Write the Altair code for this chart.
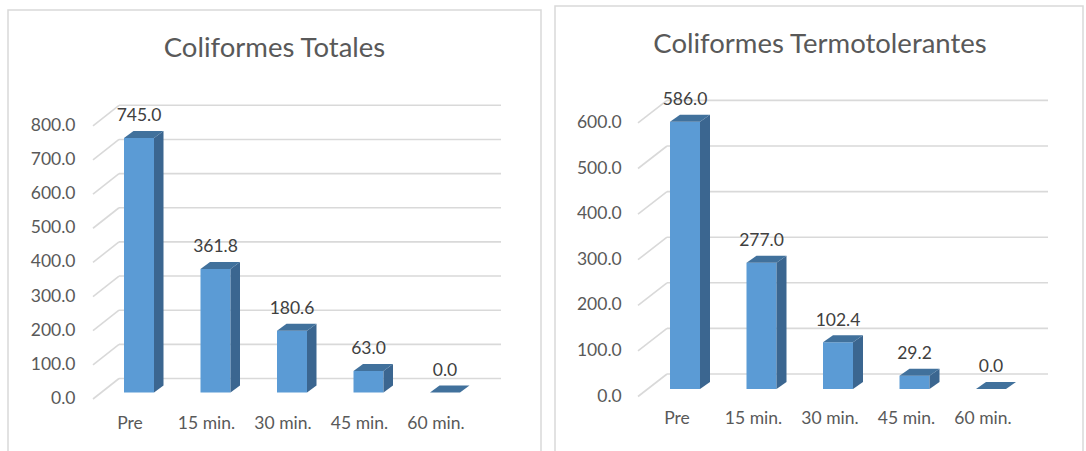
import altair as alt
import pandas as pd

categories = ["Pre", "15 min.", "30 min.", "45 min.", "60 min."]
totales = [745.0, 361.8, 180.6, 63.0, 0.0]
termotolerantes = [586.0, 277.0, 102.4, 29.2, 0.0]
ticks_totales = [0, 100, 200, 300, 400, 500, 600, 700, 800]
ticks_termo = [0, 100, 200, 300, 400, 500, 600]
titles = ["Coliformes Totales", "Coliformes Termotolerantes"]

FONT = "Lato"
TXT = "#595959"
FRONT = "#5B9BD5"
SIDE = "#3B6690"
TOPC = "#41719C"
GRID = "#D9D9D9"
BORDER = "#D9D9D9"


def panel(title, values, ticks, g):
    k = g["px_per_unit"]
    step = g["step"]
    half = g["half"] / step
    dx = g["depth_dx"] / step
    dy = g["depth_dy"] / k
    n = len(categories)

    bars = pd.DataFrame({
        "i": list(range(n)),
        "xl": [i - half for i in range(n)],
        "xr": [i + half for i in range(n)],
        "cat": categories,
        "v": values,
        "zero": [0.0] * n,
        "label": [f"{v:.1f}" for v in values],
    })
    side_rows, top_rows = [], []
    for i, v in enumerate(values):
        side_rows += [
            {"bar": i, "x": i + half, "top": v, "bot": 0.0},
            {"bar": i, "x": i + half + dx, "top": v + dy, "bot": dy},
        ]
        top_rows += [
            {"bar": i, "x": i - half, "top": v, "bot": v},
            {"bar": i, "x": i - half + dx, "top": v + dy, "bot": v},
            {"bar": i, "x": i + half, "top": v + dy, "bot": v},
            {"bar": i, "x": i + half + dx, "top": v + dy, "bot": v + dy},
        ]
    side = pd.DataFrame(side_rows)
    topf = pd.DataFrame(top_rows)
    tk = pd.DataFrame({"t": ticks, "tl": [f"{t:.1f}" for t in ticks]})
    one = pd.DataFrame({"title": [title]})

    xs = alt.Scale(domain=[0, n - 1], range=[g["x0"], g["x0"] + step * (n - 1)], nice=False, zero=False)
    ys = alt.Scale(domain=[0, ticks[-1]], range=[g["y0"], g["y0"] - k * ticks[-1]], nice=False, zero=False)

    bx = g["border"]
    border = alt.Chart(one).mark_rect(filled=False, stroke=BORDER, strokeWidth=1.5).encode(
        x=alt.value(bx[0]), x2=alt.value(bx[1]), y=alt.value(bx[2]), y2=alt.value(bx[3]))

    grid = alt.Chart(tk).mark_rule(color=GRID, strokeWidth=1.6, yOffset=g["back_dy"]).encode(
        y=alt.Y("t:Q", scale=ys, axis=None),
        x=alt.value(g["back_x0"]), x2=alt.value(g["back_x1"]))

    diag = alt.Chart(tk).mark_rule(color=GRID, strokeWidth=1.6, yOffset=g["front_dy"], y2Offset=g["back_dy"]).encode(
        y=alt.Y("t:Q", scale=ys, axis=None), y2=alt.Y2("t"),
        x=alt.value(g["front_x0"]), x2=alt.value(g["back_x0"]))

    ticklab = alt.Chart(tk).mark_text(align="right", baseline="middle", yOffset=g["front_dy"],
                                      font=FONT, fontSize=g["fs"], color=TXT).encode(
        y=alt.Y("t:Q", scale=ys, axis=None), x=alt.value(g["tick_x"]), text="tl:N")

    front = alt.Chart(bars).mark_rect(color=FRONT).encode(
        x=alt.X("xl:Q", scale=xs, axis=None), x2="xr",
        y=alt.Y("v:Q", scale=ys, axis=None), y2="zero")

    sidef = alt.Chart(side).mark_area(color=SIDE, orient="vertical").encode(
        x=alt.X("x:Q", scale=xs, axis=None),
        y=alt.Y("top:Q", scale=ys, axis=None), y2="bot", detail="bar:N")

    topface = alt.Chart(topf).mark_area(color=TOPC, orient="vertical").encode(
        x=alt.X("x:Q", scale=xs, axis=None),
        y=alt.Y("top:Q", scale=ys, axis=None), y2="bot", detail="bar:N")

    vals = alt.Chart(bars).mark_text(align="center", baseline="middle", dy=g["val_dy"],
                                     font=FONT, fontSize=g["fs"], color="#404040").encode(
        x=alt.X("i:Q", scale=xs, axis=None), y=alt.Y("v:Q", scale=ys, axis=None), text="label:N")

    cats = alt.Chart(bars).mark_text(align="center", baseline="middle", xOffset=g["cat_dx"],
                                     font=FONT, fontSize=g["fs"], color=TXT).encode(
        x=alt.X("i:Q", scale=xs, axis=None), y=alt.value(g["cat_y"]), text="cat:N")

    ttl = alt.Chart(one).mark_text(align="center", baseline="middle", font=FONT,
                                   fontSize=g["title_fs"], color=TXT).encode(
        x=alt.value(g["title_x"]), y=alt.value(g["title_y"]), text="title:N")

    return alt.layer(border, grid, diag, ticklab, front, sidef, topface, vals, cats, ttl)


geom_left = dict(x0=139, step=76.5, half=15, depth_dx=9.5, depth_dy=7, px_per_unit=0.3415,
                 y0=392.5, back_dy=-14, front_dy=6.5, back_x0=119, back_x1=501, front_x0=93,
                 tick_x=75.5, cat_y=424, cat_dx=-9, val_dy=-22, title_x=274.5, title_y=48.5,
                 border=(8, 541, 10, 470), fs=17.5, title_fs=27.5)
geom_right = dict(x0=685, step=76.5, half=15, depth_dx=10, depth_dy=7, px_per_unit=0.456,
                  y0=389, back_dy=-15, front_dy=7.5, back_x0=667, back_x1=1048, front_x0=638,
                  tick_x=621.7, cat_y=419.3, cat_dx=-8, val_dy=-21.6, title_x=820, title_y=44.5,
                  border=(555, 1083, 6, 470), fs=17.5, title_fs=27.5)

left = panel(titles[0], totales, ticks_totales, geom_left)
right = panel(titles[1], termotolerantes, ticks_termo, geom_right)

chart = alt.layer(left, right).resolve_scale(x="independent", y="independent").properties(
    width=1086, height=451, padding=0, autosize="none", background="white"
).configure_view(stroke=None)

chart.save("out.html", embed_options={"renderer": "svg", "actions": False})
